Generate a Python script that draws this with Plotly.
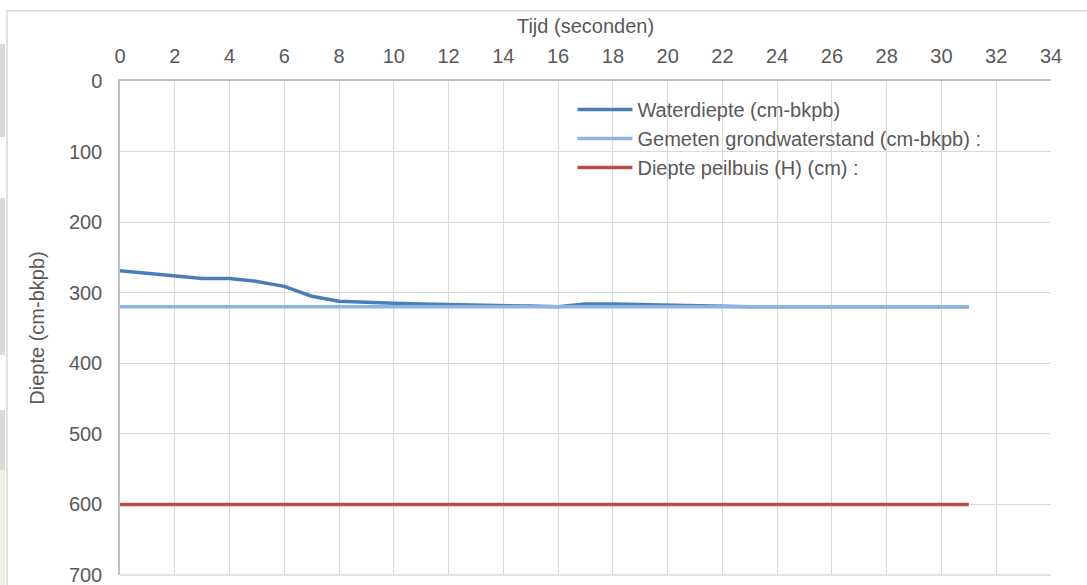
import plotly.graph_objects as go

# Data
tijd = list(range(0, 32))
waterdiepte = [269, 273, 276, 280, 280, 284, 291, 305, 312, 314,
               315, 316, 316.5, 317, 318, 319, 320, 316, 316, 317,
               318, 319, 319, 320, 320, 320, 320, 320, 320, 320, 320, 320]
gemeten = [320] * 32
peilbuis = [600] * 32

names = ["Waterdiepte (cm-bkpb)", "Gemeten grondwaterstand (cm-bkpb) :", "Diepte peilbuis (H) (cm) :"]
colors = ["#4a7ebb", "#8db4e2", "#be4b48"]
x_ticks = list(range(0, 35, 2))
y_ticks = list(range(0, 701, 100))

FONT = "Liberation Sans, Arial, sans-serif"
GRAY = "#595959"

fig = go.Figure()
for name, ys, col in zip(names, [waterdiepte, gemeten, peilbuis], colors):
    fig.add_trace(go.Scatter(x=tijd, y=ys, mode="lines", name=name, legendgroup=name,
                             line=dict(color=col, width=3.5)))


def strip(y0, y1, color):
    return dict(type="rect", xref="paper", yref="paper", x0=-0.1289, x1=-0.1235,
                y0=y0, y1=y1, line=dict(width=0), fillcolor=color, layer="below")


fig.update_layout(
    width=1087, height=585,
    margin=dict(l=120, r=36, t=81, b=10, autoexpand=False),
    paper_bgcolor="white", plot_bgcolor="white",
    font=dict(family=FONT, size=20, color=GRAY),
    showlegend=True,
    legend=dict(x=0.486, y=0.982, xanchor="left", yanchor="top",
                bgcolor="rgba(0,0,0,0)", font=dict(size=20, color=GRAY),
                itemwidth=55, tracegroupgap=3, traceorder="normal"),
    xaxis=dict(side="top", range=[0, 34], tickvals=x_ticks, showgrid=True, automargin=False,
               gridcolor="#d9d9d9", gridwidth=1.3, showline=True, linecolor="#bfbfbf",
               linewidth=1.5, zeroline=False, ticks="", ticklabelstandoff=8,
               ticklabeloverflow="allow",
               title=dict(text="Tijd (seconden)", font=dict(size=20, color=GRAY), standoff=6)),
    yaxis=dict(autorange=False, range=[700, 0], tickvals=y_ticks, showgrid=True, automargin=False,
               gridcolor="#d9d9d9", gridwidth=1.3, showline=True, linecolor="#bfbfbf",
               linewidth=1.5, zeroline=False, ticks="", ticklabelstandoff=12,
               ticklabeloverflow="allow",
               title=dict(text="Diepte (cm-bkpb)", font=dict(size=20, color=GRAY), standoff=19)),
    shapes=[
        dict(type="rect", xref="paper", yref="paper", x0=-0.1214, x1=1.2, y0=-0.2, y1=1.1423,
             line=dict(color="#d9d9d9", width=1.5), fillcolor="rgba(0,0,0,0)", layer="below"),
        dict(type="line", xref="paper", yref="paper", x0=0, x1=1, y0=0, y1=0,
             line=dict(color="#d9d9d9", width=1.5)),
        strip(0.8866, 1.0749, "#dadada"),
        strip(0.4453, 0.7632, "#dadada"),
        strip(0.2126, 0.3340, "#dadada"),
        strip(-0.03, 0.2126, "#edf1e1"),
    ],
)

fig.write_html("out.html", config={"displayModeBar": False},
               post_script="document.body.style.margin='0';")
